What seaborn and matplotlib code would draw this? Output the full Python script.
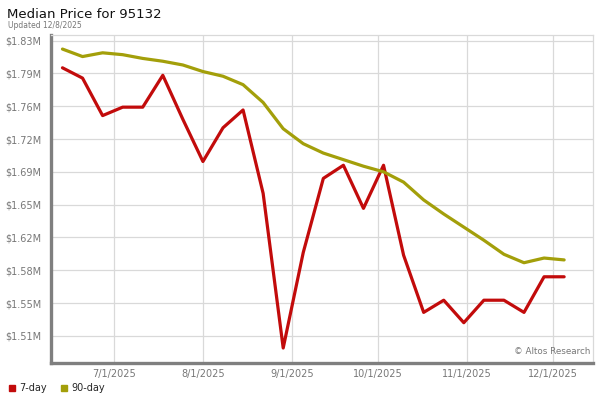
import pandas as pd
import matplotlib.pyplot as plt
import matplotlib.dates as mdates
from matplotlib.lines import Line2D
import seaborn as sns

# weekly data points (Fridays)
dates = ['2025-06-13', '2025-06-20', '2025-06-27', '2025-07-04', '2025-07-11',
         '2025-07-18', '2025-07-25', '2025-08-01', '2025-08-08', '2025-08-15',
         '2025-08-22', '2025-08-29', '2025-09-05', '2025-09-12', '2025-09-19',
         '2025-09-26', '2025-10-03', '2025-10-10', '2025-10-17', '2025-10-24',
         '2025-10-31', '2025-11-07', '2025-11-14', '2025-11-21', '2025-11-28',
         '2025-12-05']

# median price in $M
price_7day = [1.796, 1.785, 1.745, 1.754, 1.754, 1.788, 1.741, 1.696, 1.732,
              1.751, 1.662, 1.497, 1.599, 1.678, 1.692, 1.646, 1.692, 1.596,
              1.535, 1.548, 1.524, 1.548, 1.548, 1.535, 1.573, 1.573]
price_90day = [1.816, 1.808, 1.812, 1.810, 1.806, 1.803, 1.799, 1.792, 1.787,
               1.778, 1.759, 1.731, 1.715, 1.705, 1.698, 1.691, 1.685, 1.674,
               1.655, 1.640, 1.626, 1.612, 1.597, 1.588, 1.593, 1.591]

series_names = ['7-day', '90-day']
series_colors = ['#c20b0b', '#a39f0a']

y_ticks = [1.51, 1.545, 1.58, 1.615, 1.65, 1.685, 1.72, 1.755, 1.79, 1.825]
y_labels = ['$1.51M', '$1.55M', '$1.58M', '$1.62M', '$1.65M', '$1.69M',
            '$1.72M', '$1.76M', '$1.79M', '$1.83M']
x_ticks = ['2025-07-01', '2025-08-01', '2025-09-01', '2025-10-01',
           '2025-11-01', '2025-12-01']
x_labels = ['7/1/2025', '8/1/2025', '9/1/2025', '10/1/2025', '11/1/2025', '12/1/2025']

df = pd.DataFrame({
    'date': pd.to_datetime(dates * 2),
    'price': price_7day + price_90day,
    'series': [series_names[0]] * len(dates) + [series_names[1]] * len(dates),
})

sns.set_style('white')
plt.rcParams['font.family'] = ['DejaVu Sans']

fig = plt.figure(figsize=(6, 4), dpi=100)
ax = fig.add_axes([0.085, 0.0925, 0.903, 0.82])

sns.lineplot(data=df, x='date', y='price', hue='series',
             palette=dict(zip(series_names, series_colors)),
             linewidth=2.3, legend=False, ax=ax)

ax.set_xlim(pd.Timestamp('2025-06-09'), pd.Timestamp('2025-12-15'))
ax.set_ylim(1.481, 1.831)
ax.set_yticks(y_ticks)
ax.set_yticklabels(y_labels)
ax.set_xticks(pd.to_datetime(x_ticks))
ax.set_xticklabels(x_labels)
ax.grid(True, color='#d9d9d9', linewidth=0.9)
ax.set_axisbelow(True)
ax.tick_params(axis='both', length=0, labelsize=7, labelcolor='#777777')
ax.tick_params(axis='y', pad=7)
ax.tick_params(axis='x', pad=4)
ax.set_xlabel('')
ax.set_ylabel('')

for side in ['top', 'right']:
    ax.spines[side].set_color('#d9d9d9')
    ax.spines[side].set_linewidth(0.9)
for side in ['left', 'bottom']:
    ax.spines[side].set_color('#7f7f7f')
    ax.spines[side].set_linewidth(2.4)

ax.text(0.995, 0.02, '\u00a9 Altos Research', transform=ax.transAxes,
        ha='right', va='bottom', fontsize=6.3, color='#777777')

fig.text(0.012, 0.965, 'Median Price for 95132', fontsize=9.5, color='#111111',
         ha='left', va='center')
fig.text(0.013, 0.937, 'Updated 12/8/2025', fontsize=5.5, color='#777777',
         ha='left', va='center')

handles = [Line2D([], [], marker='s', linestyle='', color=c, markersize=4.5)
           for c in series_colors]
fig.legend(handles, series_names, loc='lower left', bbox_to_anchor=(0.0, 0.0),
           ncol=2, frameon=False, fontsize=7, handletextpad=0.3,
           columnspacing=1.2, handlelength=1.0, borderaxespad=0.3)

fig.savefig('out.png', dpi=100)
